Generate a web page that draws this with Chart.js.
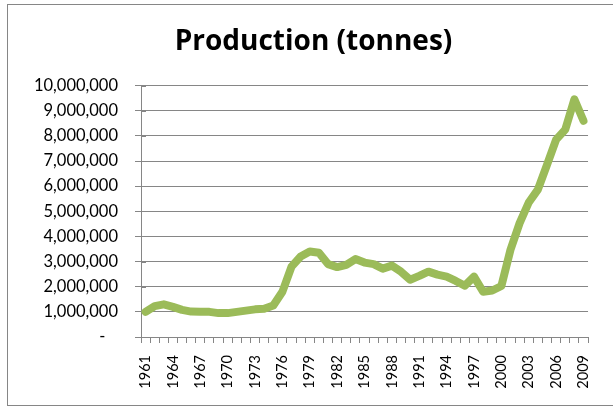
<!DOCTYPE html>
<html>
<head>
<meta charset="utf-8">
<script src="https://cdn.jsdelivr.net/npm/chart.js@4.4.1/dist/chart.umd.min.js"></script>
<style>
  html, body { margin: 0; padding: 0; background: #ffffff; }
  #wrap { position: relative; width: 613px; height: 410px; overflow: hidden; }
  #frame { position: absolute; left: 7px; top: 4px; width: 620px; height: 402px; border: 1px solid #868686; box-sizing: border-box; pointer-events: none; }
  canvas { position: absolute; left: 0; top: 0; }
</style>
</head>
<body>
<div id="wrap">
  <canvas id="c" width="613" height="410"></canvas>
  <div id="frame"></div>
</div>
<script>
const years = [];
for (let y = 1961; y <= 2009; y++) years.push(String(y));

const production = [
  1000000, 1230000, 1300000, 1200000, 1080000, 1010000, 1000000, 1000000, 950000, 950000,
  1000000, 1050000, 1100000, 1120000, 1250000, 1800000, 2800000, 3200000, 3400000, 3350000,
  2900000, 2780000, 2870000, 3100000, 2960000, 2900000, 2720000, 2840000, 2600000, 2280000,
  2430000, 2600000, 2480000, 2400000, 2230000, 2040000, 2400000, 1800000, 1850000, 2030000,
  3470000, 4530000, 5350000, 5860000, 6850000, 7850000, 8250000, 9450000, 8600000
];

const yTicks = { min: 0, max: 10000000, step: 1000000 };
const titleText = 'Production (tonnes)';

const FONT = 'Lato, "Liberation Sans", sans-serif';
const GRID = '#868686';

const bgPlugin = {
  id: 'bg',
  beforeDraw(chart) {
    const ctx = chart.ctx;
    ctx.save();
    ctx.fillStyle = '#ffffff';
    ctx.fillRect(0, 0, chart.width, chart.height);
    ctx.restore();
  }
};

// y tick marks in the reference cross the axis slightly into the plot
const crossTicks = {
  id: 'crossTicks',
  beforeDatasetsDraw(chart) {
    const y = chart.scales.y;
    const ctx = chart.ctx;
    ctx.save();
    ctx.strokeStyle = GRID;
    ctx.lineWidth = 1;
    y.ticks.forEach((t, i) => {
      const py = Math.round(y.getPixelForTick(i)) + 0.5;
      ctx.beginPath();
      ctx.moveTo(y.right, py);
      ctx.lineTo(y.right + 5, py);
      ctx.stroke();
    });
    ctx.restore();
  }
};

new Chart(document.getElementById('c'), {
  type: 'line',
  data: {
    labels: years,
    datasets: [{
      data: production,
      borderColor: '#9BBB59',
      backgroundColor: '#9BBB59',
      borderWidth: 8,
      pointRadius: 0,
      tension: 0,
      borderCapStyle: 'round',
      borderJoinStyle: 'round',
      fill: false
    }]
  },
  options: {
    responsive: false,
    animation: false,
    devicePixelRatio: 1,
    layout: { padding: { left: 26, right: 12, top: 0, bottom: 0 } },
    plugins: {
      legend: { display: false },
      tooltip: { enabled: false },
      title: {
        display: true,
        text: titleText,
        color: '#000000',
        font: { family: '"Open Sans", Lato, sans-serif', size: 28, weight: 'bold' },
        padding: { top: 25, bottom: 27 }
      }
    },
    scales: {
      x: {
        type: 'category',
        offset: true,
        grid: {
          display: true,
          offset: true,
          drawOnChartArea: false,
          drawTicks: true,
          tickLength: 6,
          color: GRID
        },
        border: { display: true, color: GRID, width: 1 },
        ticks: {
          autoSkip: false,
          maxRotation: 90,
          minRotation: 90,
          padding: 12,
          color: '#000000',
          font: { family: FONT, size: 14.5 },
          callback: function(val, idx) { return idx % 3 === 0 ? this.getLabelForValue(val) : ''; }
        },
        afterFit(scale) { scale.height = 73; }
      },
      y: {
        min: yTicks.min,
        max: yTicks.max,
        grid: {
          color: GRID,
          lineWidth: 1,
          drawTicks: true,
          tickLength: 6
        },
        border: { display: true, color: GRID, width: 1 },
        ticks: {
          stepSize: yTicks.step,
          padding: 17,
          color: '#000000',
          font: { family: FONT, size: 16.5 },
          callback: v => v === 0 ? '-   ' : v.toLocaleString('en-US')
        },
        afterFit(scale) { scale.width = 115; }
      }
    }
  },
  plugins: [bgPlugin, crossTicks]
});
</script>
</body>
</html>
